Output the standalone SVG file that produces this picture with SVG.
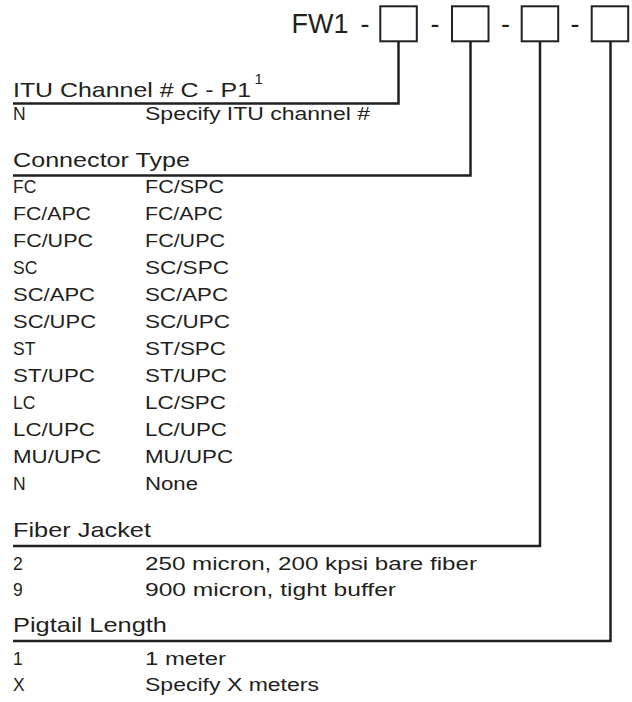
<svg xmlns="http://www.w3.org/2000/svg" width="632" height="702" viewBox="0 0 632 702">
<style>
  text { font-family: "Liberation Sans", Arial, sans-serif; fill: #231f20; }
  .code { font-size: 27px; }
  .title { font-size: 21px; }
  .item { font-size: 17.5px; }
  .sup { font-size: 15px; }
  .box { fill: #ffffff; stroke: #231f20; stroke-width: 2; }
  .conn { fill: none; stroke: #231f20; stroke-width: 2.5; stroke-linejoin: miter; }
</style>
<rect width="632" height="702" fill="#ffffff"/>

<g id="connectors">
  <polyline class="conn" points="398.5,42 398.5,103.5 13,103.5"/>
  <polyline class="conn" points="470.5,42 470.5,175.5 13,175.5"/>
  <polyline class="conn" points="540,42 540,546 13,546"/>
  <polyline class="conn" points="610.5,42 610.5,641 13,641"/>
</g>

<g id="part-code">
  <text class="code" x="291.5" y="33">FW1</text>
  <text class="code" x="365" y="33" text-anchor="middle">-</text>
  <text class="code" x="435" y="33" text-anchor="middle">-</text>
  <text class="code" x="505.5" y="33" text-anchor="middle">-</text>
  <text class="code" x="575" y="33" text-anchor="middle">-</text>
</g>
<g id="box-channel"><rect class="box" x="380.3" y="6.3" width="36.5" height="35"/></g>
<g id="box-connector"><rect class="box" x="452" y="6.3" width="36.5" height="35"/></g>
<g id="box-jacket"><rect class="box" x="521.7" y="6.3" width="36.5" height="35"/></g>
<g id="box-length"><rect class="box" x="591.7" y="6.3" width="36.5" height="35"/></g>

<g id="section-channel">
  <text class="title" x="13" y="96.5" textLength="238" lengthAdjust="spacingAndGlyphs">ITU Channel # C - P1</text>
  <text class="sup" x="254.5" y="84">1</text>
  <text class="item" x="13" y="120">N</text>
  <text class="item" x="145" y="120" textLength="225" lengthAdjust="spacingAndGlyphs">Specify ITU channel #</text>
</g>

<g id="section-connector">
  <text class="title" x="13" y="167" textLength="177" lengthAdjust="spacingAndGlyphs">Connector Type</text>
  <text class="item" x="13" y="193">FC</text>
  <text class="item" x="145" y="193" textLength="79" lengthAdjust="spacingAndGlyphs">FC/SPC</text>
  <text class="item" x="13" y="220" textLength="78" lengthAdjust="spacingAndGlyphs">FC/APC</text>
  <text class="item" x="145" y="220" textLength="78" lengthAdjust="spacingAndGlyphs">FC/APC</text>
  <text class="item" x="13" y="247" textLength="80" lengthAdjust="spacingAndGlyphs">FC/UPC</text>
  <text class="item" x="145" y="247" textLength="80" lengthAdjust="spacingAndGlyphs">FC/UPC</text>
  <text class="item" x="13" y="274">SC</text>
  <text class="item" x="145" y="274" textLength="84" lengthAdjust="spacingAndGlyphs">SC/SPC</text>
  <text class="item" x="13" y="301" textLength="82" lengthAdjust="spacingAndGlyphs">SC/APC</text>
  <text class="item" x="145" y="301" textLength="83" lengthAdjust="spacingAndGlyphs">SC/APC</text>
  <text class="item" x="13" y="328" textLength="83" lengthAdjust="spacingAndGlyphs">SC/UPC</text>
  <text class="item" x="145" y="328" textLength="85" lengthAdjust="spacingAndGlyphs">SC/UPC</text>
  <text class="item" x="13" y="355">ST</text>
  <text class="item" x="145" y="355" textLength="81" lengthAdjust="spacingAndGlyphs">ST/SPC</text>
  <text class="item" x="13" y="382" textLength="82" lengthAdjust="spacingAndGlyphs">ST/UPC</text>
  <text class="item" x="145" y="382" textLength="82" lengthAdjust="spacingAndGlyphs">ST/UPC</text>
  <text class="item" x="13" y="409">LC</text>
  <text class="item" x="145" y="409" textLength="81" lengthAdjust="spacingAndGlyphs">LC/SPC</text>
  <text class="item" x="13" y="436" textLength="82" lengthAdjust="spacingAndGlyphs">LC/UPC</text>
  <text class="item" x="145" y="436" textLength="82" lengthAdjust="spacingAndGlyphs">LC/UPC</text>
  <text class="item" x="13" y="463" textLength="88" lengthAdjust="spacingAndGlyphs">MU/UPC</text>
  <text class="item" x="145" y="463" textLength="88" lengthAdjust="spacingAndGlyphs">MU/UPC</text>
  <text class="item" x="13" y="490">N</text>
  <text class="item" x="145" y="490" textLength="53" lengthAdjust="spacingAndGlyphs">None</text>
</g>

<g id="section-jacket">
  <text class="title" x="13" y="537" textLength="138" lengthAdjust="spacingAndGlyphs">Fiber Jacket</text>
  <text class="item" x="13" y="570">2</text>
  <text class="item" x="145" y="570" textLength="332" lengthAdjust="spacingAndGlyphs">250 micron, 200 kpsi bare fiber</text>
  <text class="item" x="13" y="596">9</text>
  <text class="item" x="145" y="596" textLength="251" lengthAdjust="spacingAndGlyphs">900 micron, tight buffer</text>
</g>

<g id="section-length">
  <text class="title" x="13" y="632" textLength="154" lengthAdjust="spacingAndGlyphs">Pigtail Length</text>
  <text class="item" x="13" y="665">1</text>
  <text class="item" x="145" y="665" textLength="81" lengthAdjust="spacingAndGlyphs">1 meter</text>
  <text class="item" x="13" y="691">X</text>
  <text class="item" x="145" y="691" textLength="174" lengthAdjust="spacingAndGlyphs">Specify X meters</text>
</g>
</svg>
